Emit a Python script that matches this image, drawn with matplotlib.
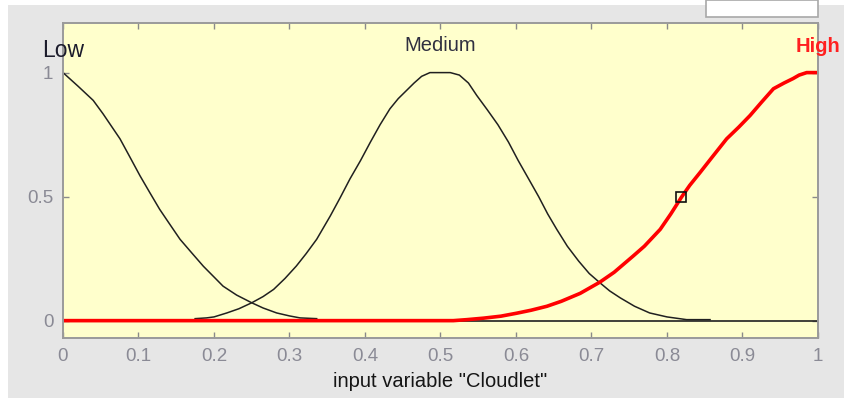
import matplotlib.pyplot as plt
from matplotlib.patches import Rectangle

# Membership functions
low_x = [0.0, 0.02, 0.040, 0.053, 0.0755, 0.088, 0.102, 0.115, 0.128, 0.14, 0.155, 0.17, 0.186,
         0.2, 0.212, 0.23, 0.25, 0.265, 0.283, 0.3, 0.314, 0.336]
low_y = [1.0, 0.945, 0.888, 0.834, 0.733, 0.663, 0.584, 0.516, 0.449, 0.395, 0.328, 0.275, 0.219,
         0.176, 0.139, 0.103, 0.072, 0.051, 0.031, 0.019, 0.011, 0.008]

med_x = [0.175, 0.19, 0.20, 0.217, 0.233, 0.25, 0.265, 0.279, 0.294, 0.309, 0.322, 0.336, 0.354,
         0.367, 0.380, 0.394, 0.407, 0.42, 0.433, 0.444, 0.455, 0.465, 0.475, 0.486, 0.5, 0.513,
         0.525, 0.537, 0.548, 0.562, 0.576, 0.59, 0.603, 0.617, 0.630, 0.642, 0.654, 0.668, 0.683,
         0.697, 0.711, 0.724, 0.738, 0.757, 0.777, 0.80, 0.826, 0.857]
med_y = [0.008, 0.011, 0.015, 0.031, 0.048, 0.072, 0.097, 0.126, 0.17, 0.22, 0.27, 0.328, 0.422,
         0.495, 0.571, 0.645, 0.719, 0.79, 0.854, 0.895, 0.928, 0.958, 0.985, 1.0, 1.0, 1.0,
         0.99, 0.958, 0.908, 0.85, 0.79, 0.72, 0.645, 0.57, 0.50, 0.43, 0.368, 0.30, 0.24,
         0.19, 0.153, 0.12, 0.092, 0.058, 0.031, 0.015, 0.004, 0.004]

high_x = [0.0, 0.517, 0.535, 0.557, 0.58, 0.601, 0.62, 0.641, 0.66, 0.685, 0.711, 0.73, 0.755,
          0.77, 0.791, 0.805, 0.819, 0.83, 0.844, 0.86, 0.879, 0.895, 0.910, 0.925, 0.941,
          0.955, 0.967, 0.975, 0.985, 1.0]
high_y = [0.0, 0.0, 0.004, 0.01, 0.018, 0.03, 0.042, 0.058, 0.078, 0.11, 0.155, 0.195, 0.26,
          0.30, 0.368, 0.43, 0.497, 0.545, 0.598, 0.66, 0.733, 0.78, 0.827, 0.88, 0.935,
          0.958, 0.976, 0.99, 1.0, 1.0]

base_x = [0.517, 1.0]
base_y = [0.0, 0.0]

point_x = [0.819]
point_y = [0.497]

names = ['Low', 'Medium', 'High']
name_x = [0.0, 0.5, 1.0]
name_y = [1.09, 1.11, 1.105]
name_sizes = [16.5, 14.5, 14.5]
name_colors = ['#1c1c2c', '#303040', '#ff2020']
name_weights = ['normal', 'normal', 'bold']

xticks = [0, 0.1, 0.2, 0.3, 0.4, 0.5, 0.6, 0.7, 0.8, 0.9, 1]
xtick_labels = ['0', '0.1', '0.2', '0.3', '0.4', '0.5', '0.6', '0.7', '0.8', '0.9', '1']
yticks = [0, 0.5, 1]
ytick_labels = ['0', '0.5', '1']

plt.rcParams['font.family'] = ['Liberation Sans', 'DejaVu Sans']

fig = plt.figure(figsize=(8.45, 3.98), dpi=100)
fig.patch.set_facecolor('#e6e6e6')
# white strips at the top and left edge of the screenshot
fig.add_artist(Rectangle((0, 1 - 5 / 398), 1, 5 / 398, transform=fig.transFigure,
                         facecolor='white', edgecolor='none'))
fig.add_artist(Rectangle((0, 0), 8 / 845, 1, transform=fig.transFigure,
                         facecolor='white', edgecolor='none'))
# edit box cut off at the top
fig.add_artist(Rectangle((706 / 845, 1 - 17 / 398), 112 / 845, 17 / 398, transform=fig.transFigure,
                         facecolor='white', edgecolor='#a8a8a8', linewidth=1.2))

ax = fig.add_axes([63 / 845, 60 / 398, 755 / 845, 315 / 398])
ax.set_facecolor('#ffffcc')

ax.plot(base_x, base_y, color='#202020', linewidth=1.2)
ax.plot(low_x, low_y, color='#202020', linewidth=1.1)
ax.plot(med_x, med_y, color='#202020', linewidth=1.1)
ax.plot(high_x, high_y, color='#ff0000', linewidth=2.6, solid_capstyle='butt')
ax.plot(point_x, point_y, marker='s', markersize=7, markerfacecolor='none',
        markeredgecolor='#101010', markeredgewidth=1.2, linestyle='none')

for name, nx, ny, fs, c, w in zip(names, name_x, name_y, name_sizes, name_colors, name_weights):
    ax.text(nx, ny, name, color=c, fontweight=w, fontsize=fs, ha='center', va='center',
            clip_on=False)

ax.set_xlim(0, 1)
ax.set_ylim(-0.07, 1.2)
ax.set_xticks(xticks)
ax.set_xticklabels(xtick_labels)
ax.set_yticks(yticks)
ax.set_yticklabels(ytick_labels)
ax.tick_params(direction='in', length=4, width=1, color='#8a8a8a', labelcolor='#8a8a95',
               labelsize=13.5, top=True, right=True, pad=7)
for s in ax.spines.values():
    s.set_color('#9a9a9a')
    s.set_linewidth(1.4)

ax.set_xlabel('input variable "Cloudlet"', fontsize=14.5, color='#151515', labelpad=5)

fig.savefig('out.png', dpi=100, facecolor=fig.get_facecolor())
